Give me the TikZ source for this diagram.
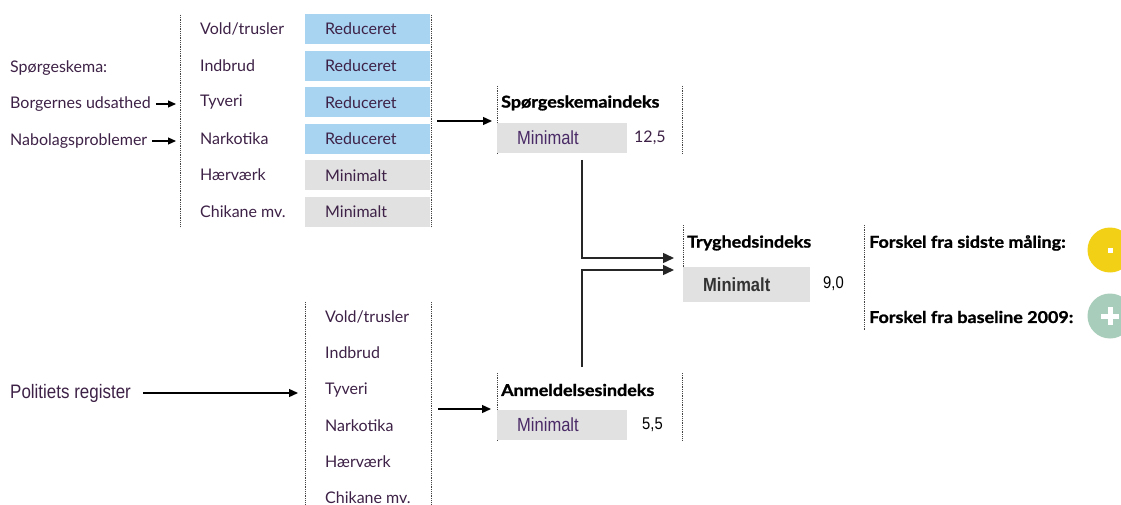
\documentclass[tikz,border=0pt]{standalone}
\usepackage{fontspec}
\setmainfont{Lato}
\newfontfamily\arialn[FakeStretch=0.87]{Liberation Sans}
\newfontfamily\ttlfont[FakeStretch=1.1,BoldFeatures={FakeBold=1.2}]{Lato}
\usetikzlibrary{arrows.meta}
\definecolor{blueb}{HTML}{A8D4F2}
\definecolor{grayb}{HTML}{E1E1E1}
\definecolor{yellowc}{HTML}{F2D016}
\definecolor{greenc}{HTML}{A8CDBA}
\definecolor{labelc}{HTML}{3D2146}
\definecolor{minc}{HTML}{4A2A66}
\definecolor{dotc}{HTML}{444444}
\begin{document}
\begin{tikzpicture}[x=1pt,y=-1pt,
  lbl/.style={anchor=west,inner sep=0pt,text=labelc,font=\fontsize{16}{18}\selectfont},
  ttl/.style={anchor=west,inner sep=0pt,text=black,font=\ttlfont\bfseries\fontsize{16.3}{18}\selectfont},
  num/.style={anchor=west,inner sep=0pt,text=black,font=\arialn\fontsize{17}{18}\selectfont},
  valbox/.style={anchor=north west,minimum width=125pt,minimum height=30pt,inner xsep=0pt,inner ysep=0pt,text width=125pt,align=left,text=labelc,font=\fontsize{16}{18}\selectfont,execute at begin node={\hspace*{20pt}}},
  idxbox/.style={anchor=north west,fill=grayb,minimum width=130pt,minimum height=30pt,inner xsep=0pt,inner ysep=0pt,text width=130pt,align=left,text=minc,font=\arialn\fontsize{19}{20}\selectfont,execute at begin node={\hspace*{20pt}}},
  dotline/.style={draw=dotc,line width=0.9pt,dash pattern=on 0.9pt off 0.9pt},
  arr/.style={draw=black,line width=1.3pt,-{Triangle[length=9pt,width=8pt]}},
  conn/.style={draw=black!85,line width=1.5pt,-{Triangle[length=11pt,width=10pt]}}
]
\useasboundingbox (0,0) rectangle (1121,505);

% ---------------- top block -----------------
\node[lbl] (sp) at (10,68) {Spørgeskema:};
\node[lbl] (bu) at (10,104) {Borgernes udsathed};
\node[lbl] (nb) at (10,141) {Nabolagsproblemer};
\coordinate (bua) at (176,104);
\coordinate (nba) at (176,141);
\draw[arr,line width=1.2pt,-{Triangle[length=8pt,width=7pt]}] ([xshift=5pt]bu.east) -- (bua);
\draw[arr,line width=1.2pt,-{Triangle[length=8pt,width=7pt]}] ([xshift=5pt]nb.east) -- (nba);

\coordinate (tl1) at (180,15); \coordinate (tl2) at (180,226);
\coordinate (tr1) at (431,15); \coordinate (tr2) at (431,226);
\draw[dotline] (tl1) -- (tl2);
\draw[dotline] (tr1) -- (tr2);

\node[lbl] (l1) at (200,29) {Vold/trusler};
\node[lbl] (l2) at (200,66) {Indbrud};
\node[lbl] (l3) at (200,102) {Tyveri};
\node[lbl] (l4) at (200,139) {Narkotika};
\node[lbl] (l5) at (200,175) {Hærværk};
\node[lbl] (l6) at (200,212) {Chikane mv.};

\node[valbox,fill=blueb] (v1) at (305,13.5) {Reduceret};
\node[valbox,fill=blueb] (v2) at (305,50.5) {Reduceret};
\node[valbox,fill=blueb] (v3) at (305,87) {Reduceret};
\node[valbox,fill=blueb] (v4) at (305,123.5) {Reduceret};
\node[valbox,fill=grayb] (v5) at (305,160) {Minimalt};
\node[valbox,fill=grayb] (v6) at (305,196.5) {Minimalt};

% ---------------- Spørgeskemaindeks -----------------
\coordinate (qa) at (437,121);
\coordinate (qb) at (492,121);
\draw[arr] (qa) -- (qb);
\coordinate (s1) at (497,86); \coordinate (s2) at (497,153);
\coordinate (s3) at (682,86); \coordinate (s4) at (682,153);
\draw[dotline] (s1) -- (s2);
\draw[dotline] (s3) -- (s4);
\node[ttl] (spt) at (501,103) {Spørgeskemaindeks};
\node[idxbox] (spb) at (497,123) {Minimalt};
\node[lbl,text=labelc] (spn) at (634,138) {12,5};

% ---------------- Anmeldelsesindeks -----------------
\coordinate (ra) at (438,409);
\coordinate (rb) at (491,409);
\draw[arr] (ra) -- (rb);
\coordinate (a1) at (497,373); \coordinate (a2) at (497,440);
\coordinate (a3) at (682,373); \coordinate (a4) at (682,440);
\draw[dotline] (a1) -- (a2);
\draw[dotline] (a3) -- (a4);
\node[ttl] (ant) at (501,390) {Anmeldelsesindeks};
\node[idxbox] (anb) at (497,410) {Minimalt};
\node[num] (ann) at (642,425) {5,5};

% ---------------- connectors to Tryghedsindeks -----------------
\coordinate (c1) at (582,160);
\coordinate (c2) at (674,258);
\coordinate (c3) at (582,367);
\coordinate (c4) at (674,270);
\draw[conn] (c1) |- (c2);
\draw[conn] (c3) |- (c4);

% ---------------- Tryghedsindeks -----------------
\coordinate (t1) at (683,225); \coordinate (t2) at (683,302);
\draw[dotline] (t1) -- (t2);
\node[ttl] (tt) at (687,243) {Tryghedsindeks};
\node[idxbox,minimum width=127pt,text width=127pt,minimum height=35pt,text=black!80,font=\arialn\bfseries\fontsize{19}{20}\selectfont] (tb) at (683,267) {Minimalt};
\node[num] (tn) at (823,284) {9,0};

\coordinate (f1) at (864,225); \coordinate (f2) at (864,331);
\draw[dotline] (f1) -- (f2);
\node[ttl] (fs) at (869,243) {Forskel fra sidste måling:};
\node[ttl] (fb) at (869,317) {Forskel fra baseline 2009:};

\node[circle,fill=yellowc,minimum size=45pt,inner sep=0pt] (cy) at (1110,250) {};
\node[fill=white,minimum size=5pt,inner sep=0pt] (cyd) at (cy.center) {};
\node[circle,fill=greenc,minimum size=45pt,inner sep=0pt] (cg) at (1110,316) {};
\draw[white,line width=5pt] ([xshift=-9pt]cg.center) -- ([xshift=9pt]cg.center);
\draw[white,line width=5pt] ([yshift=-9pt]cg.center) -- ([yshift=9pt]cg.center);

% ---------------- bottom block -----------------
\node[lbl,font=\arialn\fontsize{19.5}{20}\selectfont] (pr) at (10,393) {Politiets register};
\coordinate (pa) at (298,393);
\draw[arr] ([xshift=12pt]pr.east) -- (pa);

\coordinate (bl1) at (305,302); \coordinate (bl2) at (305,505);
\coordinate (br1) at (431,302); \coordinate (br2) at (431,505);
\draw[dotline] (bl1) -- (bl2);
\draw[dotline] (br1) -- (br2);

\node[lbl] (m1) at (325,317) {Vold/trusler};
\node[lbl] (m2) at (325,353) {Indbrud};
\node[lbl] (m3) at (325,390) {Tyveri};
\node[lbl] (m4) at (325,426) {Narkotika};
\node[lbl] (m5) at (325,462) {Hærværk};
\node[lbl] (m6) at (325,498) {Chikane mv.};
\end{tikzpicture}
\end{document}
